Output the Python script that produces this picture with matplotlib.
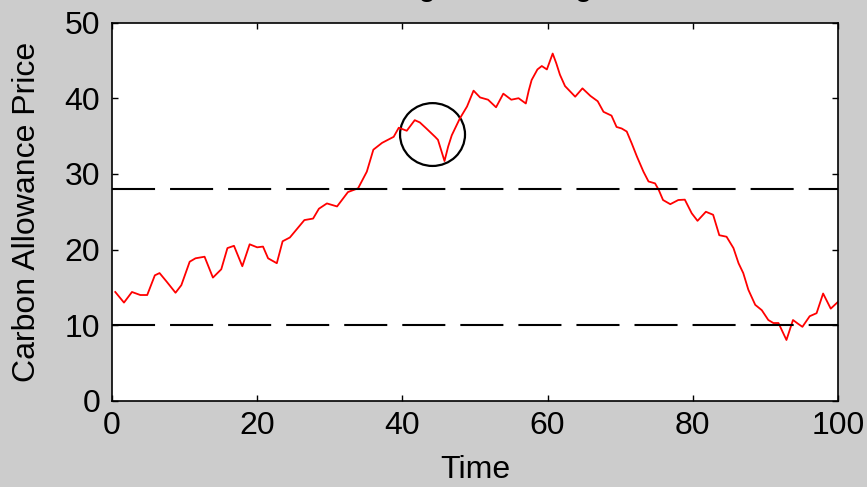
import matplotlib
matplotlib.use("Agg")
import matplotlib.pyplot as plt
from matplotlib.patches import Ellipse

plt.rcParams['font.family'] = ['Liberation Sans', 'DejaVu Sans']
plt.rcParams['lines.scale_dashes'] = False

# Data
time = [0.45, 1.65, 2.75, 3.9, 4.85, 5.9, 6.55, 7.5, 8.75, 9.55,
        10.7, 11.5, 12.75, 13.9, 15.05, 15.9, 16.8, 17.95, 18.96, 20.0,
        20.8, 21.5, 22.7, 23.5, 24.5, 26.5, 27.7, 28.5, 29.6, 31.0,
        32.5, 33.9, 35.1, 36.0, 37.2, 38.8, 39.5, 40.6, 41.7, 42.4,
        43.3, 44.5, 44.9, 45.8, 46.3, 46.8, 47.9, 48.9, 49.8, 50.7,
        51.8, 52.9, 53.9, 55.0, 56.0, 57.0, 57.4, 57.8, 58.6, 59.2,
        59.9, 60.7, 61.2, 61.7, 62.4, 63.8, 64.8, 65.9, 66.9, 67.7,
        68.8, 69.5, 70.2, 70.9, 71.6, 72.3, 73.2, 73.9, 74.8, 75.3,
        75.9, 76.9, 78.0, 78.9, 79.85, 80.65, 81.8, 82.8, 83.65, 84.65,
        85.6, 86.3, 86.95, 87.65, 88.6, 89.5, 90.4, 91.1, 91.8, 92.9,
        93.8, 94.5, 95.1, 96.1, 97.05, 97.95, 99.0, 100.0]
price = [14.4, 13.0, 14.4, 14.0, 14.0, 16.6, 16.9, 15.8, 14.3, 15.3,
         18.4, 18.85, 19.06, 16.3, 17.4, 20.2, 20.5, 17.8, 20.7, 20.3,
         20.4, 18.85, 18.2, 21.1, 21.6, 23.9, 24.1, 25.4, 26.1, 25.7,
         27.6, 28.1, 30.3, 33.2, 34.1, 34.9, 36.1, 35.7, 37.1, 36.8,
         36.0, 34.9, 34.5, 31.7, 33.6, 35.1, 37.3, 38.9, 41.0, 40.1,
         39.8, 38.8, 40.6, 39.8, 40.0, 39.3, 41.0, 42.4, 43.8, 44.25,
         43.8, 45.9, 44.6, 43.1, 41.6, 40.2, 41.3, 40.3, 39.6, 38.2,
         37.7, 36.2, 36.0, 35.6, 34.0, 32.3, 30.3, 29.0, 28.75, 27.9,
         26.55, 26.0, 26.55, 26.6, 24.8, 23.8, 25.0, 24.6, 21.9, 21.7,
         20.2, 18.2, 16.9, 14.7, 12.7, 12.0, 10.7, 10.3, 10.3, 8.06,
         10.7, 10.2, 9.8, 11.2, 11.6, 14.2, 12.2, 13.1]
thresholds = [28, 10]
circle_center = (44.15, 35.2)
circle_size = (8.95, 8.3)
xticks = [0, 20, 40, 60, 80, 100]
yticks = [0, 10, 20, 30, 40, 50]

W, H = 867, 487
fig = plt.figure(figsize=(W / 100, H / 100), dpi=100, facecolor='#cccccc')
L, R, T, B = 112, 838, 22.5, 401
ax = fig.add_axes([L / W, 1 - B / H, (R - L) / W, (B - T) / H])
ax.set_facecolor('white')

ax.plot(time, price, color='#ff0000', lw=1.3)
for th in thresholds:
    ax.axhline(th, color='black', lw=1.5, dashes=(31, 10.8))
ax.add_patch(Ellipse(circle_center, circle_size[0], circle_size[1],
                     fill=False, edgecolor='black', lw=1.6))

ax.set_xlim(0, 100)
ax.set_ylim(0, 50)
ax.set_xticks(xticks)
ax.set_yticks(yticks)
ax.tick_params(direction='in', length=4.3, width=1, top=True, right=True,
               labelsize=23, colors='black')
ax.tick_params(axis='x', pad=7)
ax.tick_params(axis='y', pad=8.5)
for s in ax.spines.values():
    s.set_linewidth(1.2)
    s.set_color('black')

fig.text(27 / W, 1 - 211.75 / H, 'Carbon Allowance Price', rotation=90,
         ha='center', va='center', fontsize=23)
fig.text(475 / W, 1 - 470 / H, 'Time', ha='center', va='center', fontsize=23)
# Title (mostly cut off at the top edge in the reference)
fig.text(494 / W, 1 + 4.5 / H, 'The Banking vs Trading Outcome',
         ha='center', va='baseline', fontsize=23)

fig.savefig('out.png', dpi=100, facecolor=fig.get_facecolor())
